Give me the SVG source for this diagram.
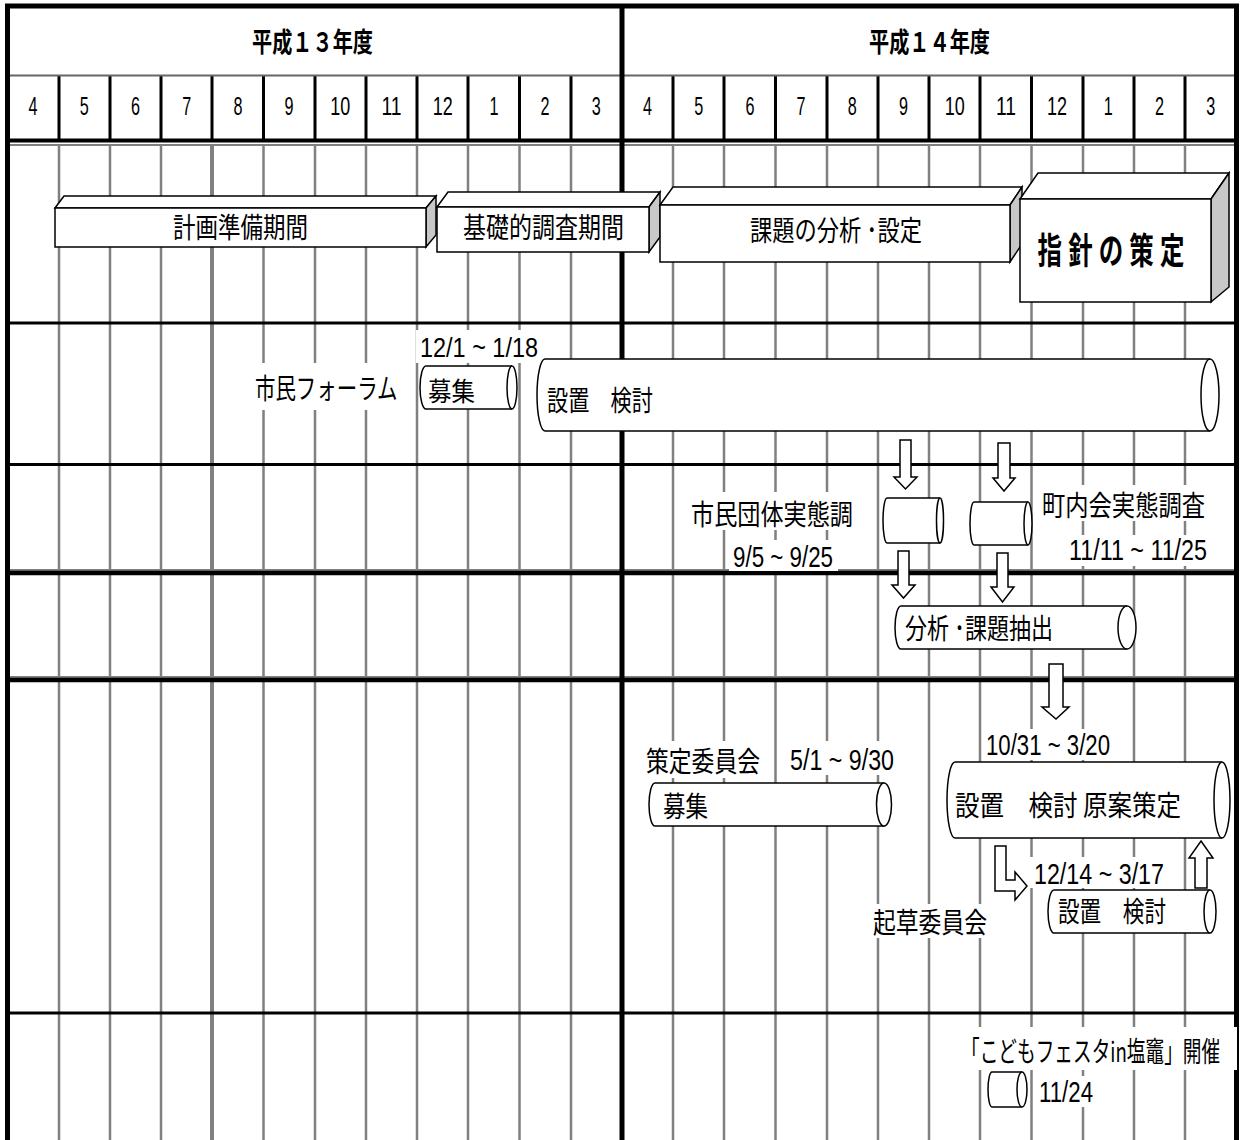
<svg xmlns="http://www.w3.org/2000/svg" width="1240" height="1140" viewBox="0 0 1240 1140">
<style>
.jp{font-family:"Noto Sans CJK JP","Noto Sans CJK SC",sans-serif;font-size:28px;fill:#000}
.bx{font-family:"Noto Sans CJK JP",sans-serif;font-size:28px;fill:#000}
.hdr{font-family:"Noto Sans CJK JP",sans-serif;font-size:27px;font-weight:bold;fill:#000}
.big{font-family:"Noto Sans CJK JP",sans-serif;font-size:36px;font-weight:bold;fill:#000;text-anchor:middle}
.num{font-family:"Liberation Sans","Noto Sans CJK JP",sans-serif;font-size:29px;fill:#000}
.mon{font-family:"Liberation Sans",sans-serif;font-size:25px;fill:#000}
.grid{stroke:#808080;stroke-width:2.5;fill:none}
.hl{stroke:#000;fill:none}
.face{fill:#fff;stroke:#000;stroke-width:1.5}
.side{fill:#c8c8c8;stroke:#000;stroke-width:1.5}
.cyl{fill:#fff;stroke:#000;stroke-width:1.5}
.arr{fill:#fff;stroke:#000;stroke-width:1.5;stroke-linejoin:miter}
.bg{fill:#fff}
</style>
<rect width="1240" height="1140" fill="#fff"/>
<g id="grid">
<path class="grid" d="M59 146V1140M110 146V1140M161 146V1140M263.5 146V1140M315 146V1140M366 146V1140M417 146V1140M468 146V1140M519.5 146V1140M571 146V1140M673 146V1140M724 146V1140M775.5 146V1140M827 146V1140M878 146V1140M929 146V1140M980 146V1140M1031.5 146V1140M1083 146V1140M1134 146V1140M1185 146V1140"/>
<path class="grid" style="stroke-width:4" d="M212 146V1140"/>
<path class="hl" stroke-width="3" d="M59 76V140M110 76V140M161 76V140M212 76V140M263.5 76V140M315 76V140M366 76V140M417 76V140M468 76V140M519.5 76V140M571 76V140M673 76V140M724 76V140M775.5 76V140M827 76V140M878 76V140M929 76V140M980 76V140M1031.5 76V140M1083 76V140M1134 76V140M1185 76V140"/>
<path stroke="#666" stroke-width="2" d="M7 75.5H1237"/>
<path stroke="#808080" stroke-width="2" d="M7 145H1237M7 570H1237M7 677H1237"/>
<path class="hl" stroke-width="4" d="M5 140.5H1239"/>
<path class="hl" stroke-width="3" d="M7 323H1237M7 464.5H1237M7 1013H1237"/>
<path class="hl" stroke-width="4.5" d="M7 573H1237M7 680H1237"/>
<path class="hl" stroke-width="5" d="M5 6H1239M7.5 4V1140M622 4V1140M1236.5 4V1140"/>
</g>
<g id="header">
<text class="hdr" x="252" y="52" textLength="121" lengthAdjust="spacingAndGlyphs">平成１３年度</text>
<text class="hdr" x="869" y="52" textLength="121" lengthAdjust="spacingAndGlyphs">平成１４年度</text>
<g class="mon">
<text x="28.6" y="115" textLength="9" lengthAdjust="spacingAndGlyphs">4</text>
<text x="79.8" y="115" textLength="9" lengthAdjust="spacingAndGlyphs">5</text>
<text x="131" y="115" textLength="9" lengthAdjust="spacingAndGlyphs">6</text>
<text x="182.2" y="115" textLength="9" lengthAdjust="spacingAndGlyphs">7</text>
<text x="233.4" y="115" textLength="9" lengthAdjust="spacingAndGlyphs">8</text>
<text x="284.6" y="115" textLength="9" lengthAdjust="spacingAndGlyphs">9</text>
<text x="330.3" y="115" textLength="20" lengthAdjust="spacingAndGlyphs">10</text>
<text x="381.5" y="115" textLength="20" lengthAdjust="spacingAndGlyphs">11</text>
<text x="432.7" y="115" textLength="20" lengthAdjust="spacingAndGlyphs">12</text>
<text x="489.4" y="115" textLength="9" lengthAdjust="spacingAndGlyphs">1</text>
<text x="540.6" y="115" textLength="9" lengthAdjust="spacingAndGlyphs">2</text>
<text x="591.8" y="115" textLength="9" lengthAdjust="spacingAndGlyphs">3</text>
<text x="643" y="115" textLength="9" lengthAdjust="spacingAndGlyphs">4</text>
<text x="694.2" y="115" textLength="9" lengthAdjust="spacingAndGlyphs">5</text>
<text x="745.4" y="115" textLength="9" lengthAdjust="spacingAndGlyphs">6</text>
<text x="796.6" y="115" textLength="9" lengthAdjust="spacingAndGlyphs">7</text>
<text x="847.8" y="115" textLength="9" lengthAdjust="spacingAndGlyphs">8</text>
<text x="899" y="115" textLength="9" lengthAdjust="spacingAndGlyphs">9</text>
<text x="944.7" y="115" textLength="20" lengthAdjust="spacingAndGlyphs">10</text>
<text x="995.9" y="115" textLength="20" lengthAdjust="spacingAndGlyphs">11</text>
<text x="1047.1" y="115" textLength="20" lengthAdjust="spacingAndGlyphs">12</text>
<text x="1103.8" y="115" textLength="9" lengthAdjust="spacingAndGlyphs">1</text>
<text x="1155" y="115" textLength="9" lengthAdjust="spacingAndGlyphs">2</text>
<text x="1206.2" y="115" textLength="9" lengthAdjust="spacingAndGlyphs">3</text>
</g>
</g>
<g id="phase-keikaku">
<polygon class="face" points="55,208 64,196 436,196 426,208"/>
<polygon class="side" points="426,208 436,196 436,235 426,247"/>
<rect class="face" x="55" y="208" width="371" height="39"/>
<text class="bx" x="173" y="238" textLength="135" lengthAdjust="spacingAndGlyphs">計画準備期間</text>
</g>
<g id="phase-kiso">
<polygon class="face" points="437,207 448,192 660,192 649,207"/>
<polygon class="side" points="649,207 660,192 660,237 649,252"/>
<rect class="face" x="437" y="207" width="212" height="45"/>
<text class="bx" x="463" y="238" textLength="161" lengthAdjust="spacingAndGlyphs">基礎的調査期間</text>
</g>
<g id="phase-kadai">
<polygon class="face" points="660,205 673,187 1022,187 1010,205"/>
<polygon class="side" points="1010,205 1022,187 1022,244 1010,262"/>
<rect class="face" x="660" y="205" width="350" height="57"/>
<text class="bx" x="750" y="241" textLength="172" lengthAdjust="spacingAndGlyphs">課題の分析 ･設定</text>
</g>
<g id="phase-shishin">
<polygon class="face" points="1020,199 1038,173 1229,173 1211,199"/>
<polygon class="side" points="1211,199 1229,173 1229,287 1211,302"/>
<rect class="face" x="1020" y="199" width="191" height="103"/>
<text class="big" transform="translate(1111,264) scale(0.68,1)" x="-90 -45 0 45 90" y="0">指針の策定</text>
</g>
<g id="forum-label">
<rect class="bg" x="416" y="330" width="126" height="33"/>
<text class="num" style="font-size:28px" x="420" y="357" textLength="118" lengthAdjust="spacingAndGlyphs">12/1 ~ 1/18</text>
<rect class="bg" x="251" y="363" width="161" height="47"/>
<text class="jp" transform="translate(255,399) scale(0.73,1)" x="0" y="0">市民フォーラム</text>
</g>
<g id="forum-boshu">
<path class="cyl" d="M426 366H512A5 21.5 0 0 1 512 409H426A6 21.5 0 0 1 426 366Z"/>
<path class="cyl" d="M512 366A5 21.5 0 0 0 512 409"/>
<text class="jp" style="font-size:26px" x="428" y="401" textLength="47" lengthAdjust="spacingAndGlyphs">募集</text>
</g>
<g id="forum-kento">
<path class="cyl" d="M545 359H1210A9 36 0 0 1 1210 431H545A8 36 0 0 1 545 359Z"/>
<path class="cyl" d="M1210 359A9 36 0 0 0 1210 431"/>
<text class="jp" x="547" y="411" textLength="106" lengthAdjust="spacingAndGlyphs">設置　検討</text>
</g>
<g id="survey-dantai">
<rect class="bg" x="687" y="492" width="170" height="38"/>
<text class="jp" x="691" y="525" textLength="162" lengthAdjust="spacingAndGlyphs">市民団体実態調</text>
<rect class="bg" x="729" y="540" width="109" height="31"/>
<text class="num" x="733" y="567" textLength="100" lengthAdjust="spacingAndGlyphs">9/5 ~ 9/25</text>
<path class="cyl" d="M887 498H940A3.5 22.5 0 0 1 940 543H887A4 22.5 0 0 1 887 498Z"/>
<path class="cyl" d="M940 498A3.5 22.5 0 0 0 940 543"/>
</g>
<g id="survey-chonaikai">
<rect class="bg" x="1038" y="485" width="172" height="36"/>
<text class="jp" x="1042" y="516" textLength="163" lengthAdjust="spacingAndGlyphs">町内会実態調査</text>
<rect class="bg" x="1065" y="535" width="146" height="31"/>
<text class="num" x="1069" y="560" textLength="138" lengthAdjust="spacingAndGlyphs">11/11 ~ 11/25</text>
<path class="cyl" d="M974 502H1028A4 21.5 0 0 1 1028 545H974A4 21.5 0 0 1 974 502Z"/>
<path class="cyl" d="M1028 502A4 21.5 0 0 0 1028 545"/>
</g>
<g id="analysis">
<path class="cyl" d="M901 606H1127A9 21.5 0 0 1 1127 649H901A6 21.5 0 0 1 901 606Z"/>
<path class="cyl" d="M1127 606A9 21.5 0 0 0 1127 649"/>
<text class="jp" x="905" y="639" textLength="148" lengthAdjust="spacingAndGlyphs">分析 ･課題抽出</text>
</g>
<g id="sakutei-boshu">
<rect class="bg" x="642" y="741" width="122" height="37"/>
<text class="jp" x="646" y="772" textLength="114" lengthAdjust="spacingAndGlyphs">策定委員会</text>
<rect class="bg" x="786" y="741" width="113" height="34"/>
<text class="num" x="790" y="770" textLength="104" lengthAdjust="spacingAndGlyphs">5/1 ~ 9/30</text>
<path class="cyl" d="M655 783H884A7.5 21.5 0 0 1 884 826H655A6 21.5 0 0 1 655 783Z"/>
<path class="cyl" d="M884 783A7.5 21.5 0 0 0 884 826"/>
<text class="jp" x="663" y="817" textLength="45" lengthAdjust="spacingAndGlyphs">募集</text>
</g>
<g id="sakutei-kento">
<rect class="bg" x="982" y="729" width="132" height="31"/>
<text class="num" x="986" y="755" textLength="124" lengthAdjust="spacingAndGlyphs">10/31 ~ 3/20</text>
<path class="cyl" d="M955 762H1222A8 38 0 0 1 1222 838H955A8 38 0 0 1 955 762Z"/>
<path class="cyl" d="M1222 762A8 38 0 0 0 1222 838"/>
<text class="jp" x="955" y="816" textLength="226" lengthAdjust="spacingAndGlyphs">設置　検討 原案策定</text>
</g>
<g id="kiso-iinkai">
<rect class="bg" x="1030" y="857" width="140" height="31"/>
<text class="num" x="1034" y="884" textLength="130" lengthAdjust="spacingAndGlyphs">12/14 ~ 3/17</text>
<rect class="bg" x="868" y="904" width="124" height="34"/>
<text class="jp" x="873" y="933" textLength="114" lengthAdjust="spacingAndGlyphs">起草委員会</text>
<path class="cyl" d="M1054 890H1210A6 21.5 0 0 1 1210 933H1054A6 21.5 0 0 1 1054 890Z"/>
<path class="cyl" d="M1210 890A6 21.5 0 0 0 1210 933"/>
<text class="jp" x="1058" y="922" textLength="108" lengthAdjust="spacingAndGlyphs">設置　検討</text>
</g>
<g id="kodomo-festa">
<rect class="bg" x="958" y="1027" width="279" height="43"/>
<text class="jp" transform="translate(961,1062) scale(0.72,1)" x="0" y="0" textLength="360" lengthAdjust="spacingAndGlyphs">「こどもフェスタin塩竈」開催</text>
<path class="cyl" d="M992 1072H1022A5 17.5 0 0 1 1022 1107H992A4 17.5 0 0 1 992 1072Z"/>
<path class="cyl" d="M1022 1072A5 17.5 0 0 0 1022 1107"/>
<rect class="bg" x="1035" y="1076" width="62" height="31"/>
<text class="num" x="1039" y="1102" textLength="54" lengthAdjust="spacingAndGlyphs">11/24</text>
</g>
<g id="connectors">
<polygon class="arr" points="900,440 911,440 911,477 917,477 905.5,489 894,477 900,477"/>
<polygon class="arr" points="998,443 1010,443 1010,478 1015,478 1004,491 993,478 998,478"/>
<polygon class="arr" points="898,551 909,551 909,585 915,585 903.5,598 892,585 898,585"/>
<polygon class="arr" points="997,553 1008,553 1008,587 1014,587 1002.5,602 991,587 997,587"/>
<polygon class="arr" points="1049,664 1063,664 1063,707 1069,707 1056,719 1042,707 1049,707"/>
<polygon class="arr" points="995,846 1006,846 1006,880 1015,880 1015,872 1027,886 1015,900 1015,891 995,891"/>
<polygon class="arr" points="1201,841 1213,858 1207,858 1207,888 1195,888 1195,858 1189,858"/>
</g>
</svg>
